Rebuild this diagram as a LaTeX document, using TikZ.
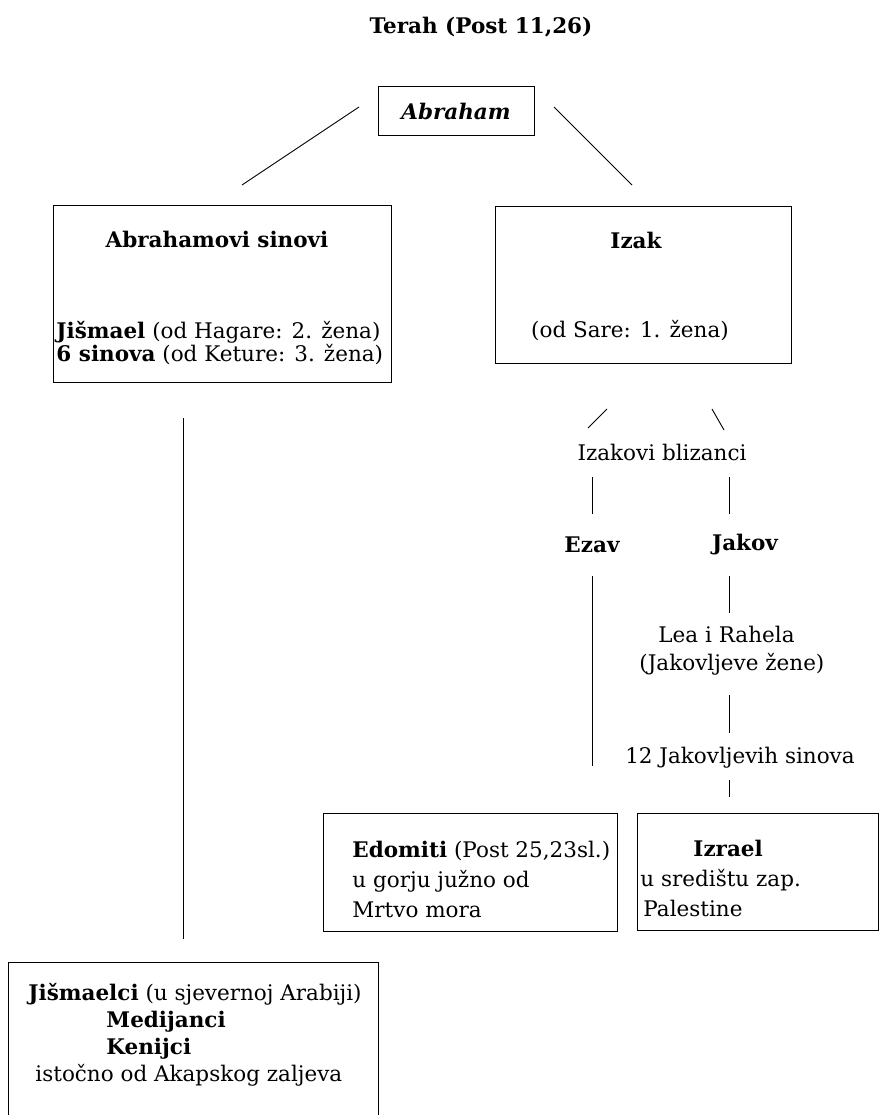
\documentclass[tikz,border=0pt]{standalone}
\usepackage{fontspec}
\setmainfont{DejaVu Serif}
\usetikzlibrary{positioning}

\begin{document}
\begin{tikzpicture}[x=1pt, y=-1pt, line width=0.9pt,
    txt/.style={inner sep=0pt, font=\fontsize{21.5}{28}\selectfont},
    hd/.style={inner sep=0pt, font=\fontsize{21.5}{28}\selectfont\bfseries},
    box/.style={draw, inner sep=0pt, line width=1pt}]
\useasboundingbox (0,0) rectangle (879,1115);
% boxes
\node[box, minimum width=156, minimum height=49] (abraham) at (456,111.5) {};
\node[box, minimum width=338, minimum height=176] (sinovi) at (222,294) {};
\node[box, minimum width=296, minimum height=156] (izak) at (643,285) {};
\node[box, minimum width=294, minimum height=118] (edomiti) at (470,872) {};
\node[box, minimum width=241, minimum height=117] (izrael) at (757.5,871.5) {};
\node[box, minimum width=370, minimum height=180] (jismaelci) at (193,1052) {};
% texts
\node[hd] (terah) at (481,27) {Terah (Post 11,26)};
\node[hd] (abrahamtxt) at (abraham) {\itshape Abraham};
\node[hd] (sinovitxt) at (217,239) {Abrahamovi sinovi};
\node[txt, align=left, anchor=west, font=\fontsize{21.5}{23}\selectfont] (zene1) at (56,343)
    {\textbf{Jišmael} (od Hagare: 2. žena)\\\textbf{6 sinova} (od Keture: 3. žena)};
\node[hd] (izaktxt) at (636,240) {Izak};
\node[txt] (sara) at (630,331) {(od Sare: 1. žena)};
\node[txt] (blizanci) at (662,452) {Izakovi blizanci};
\node[hd] (ezav) at (592,545) {Ezav};
\node[hd] (jakov) at (745,545) {Jakov};
\node[txt, align=left, anchor=west] (zene) at (639,651)
    {\hspace*{19pt}Lea i Rahela\\(Jakovljeve žene)};
\node[txt] (dvanaest) at (740,758) {12 Jakovljevih sinova};
\node[txt, align=left, anchor=west, font=\fontsize{21.5}{30}\selectfont] (edomtxt) at (352,879)
    {\textbf{Edomiti} (Post 25,23sl.)\\u gorju južno od\\Mrtvo mora};
\node[txt, align=left, anchor=west, font=\fontsize{21.5}{30}\selectfont] (izraeltxt) at (640,878)
    {\hspace*{53pt}\textbf{Izrael}\\u središtu zap.\\\hspace*{3pt}Palestine};
\node[txt, align=left, anchor=west, font=\fontsize{21.5}{27}\selectfont] (jismtxt) at (28,1035)
    {\textbf{Jišmaelci} (u sjevernoj Arabiji)\\
     \hspace*{78pt}\textbf{Medijanci}\\
     \hspace*{78pt}\textbf{Kenijci}\\
     \hspace*{7pt}istočno od Akapskog zaljeva};
% line ends
\coordinate (a1) at (359,107); \coordinate (a2) at (242,185);
\coordinate (a3) at (554,107); \coordinate (a4) at (632,185);
\coordinate (i1) at (607,409); \coordinate (i2) at (588,428);
\coordinate (i3) at (712,409); \coordinate (i4) at (724,430);
\coordinate (b1) at (592,477); \coordinate (b2) at (592,514);
\coordinate (b3) at (729,477); \coordinate (b4) at (729,514);
\coordinate (e1) at (592,576); \coordinate (e2) at (592,766);
\coordinate (j1) at (729,576); \coordinate (j2) at (729,613);
\coordinate (j3) at (729,695); \coordinate (j4) at (729,733);
\coordinate (j5) at (729,780); \coordinate (j6) at (729,797);
\coordinate (s1) at (183,418); \coordinate (s2) at (183,939);
% connectors
\draw (a1) -- (a2) (a3) -- (a4);
\draw (i1) -- (i2) (i3) -- (i4);
\draw (b1) -- (b2) (b3) -- (b4);
\draw (e1) -- (e2);
\draw (j1) -- (j2) (j3) -- (j4) (j5) -- (j6);
\draw (s1) -- (s2);
\end{tikzpicture}
\end{document}
